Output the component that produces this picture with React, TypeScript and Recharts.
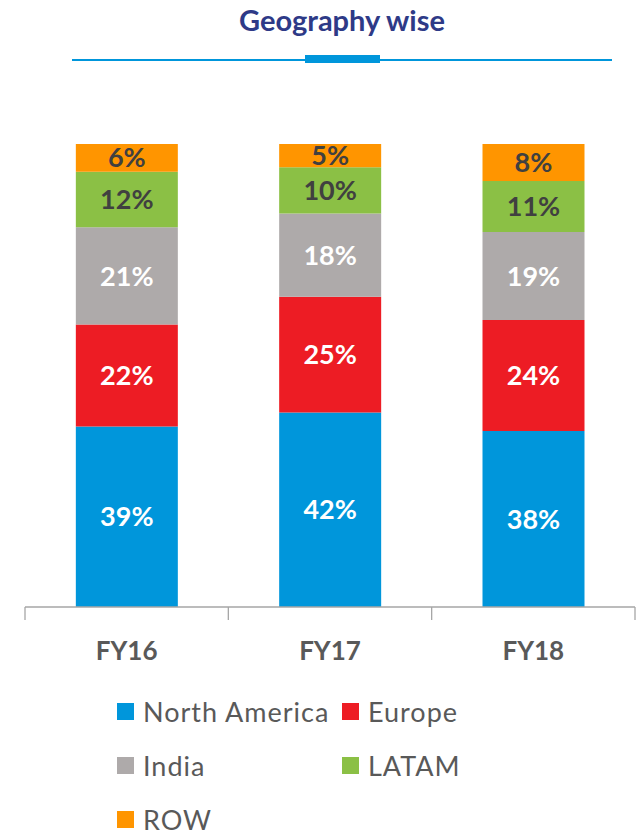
import { BarChart, Bar, XAxis, YAxis, LabelList } from "recharts";

const years = ["FY16", "FY17", "FY18"];
const northAmerica = [39, 42, 38];
const europe = [22, 25, 24];
const india = [21, 18, 19];
const latam = [12, 10, 11];
const row = [6, 5, 8];

const series = [
  { key: "na", name: "North America", color: "#0096DB", label: "#FFFFFF" },
  { key: "eu", name: "Europe", color: "#ED1C24", label: "#FFFFFF" },
  { key: "in", name: "India", color: "#AEAAAA", label: "#FFFFFF" },
  { key: "la", name: "LATAM", color: "#8BC045", label: "#404040" },
  { key: "row", name: "ROW", color: "#FF9500", label: "#404040" },
];

const data = years.map((year, i) => ({
  year,
  na: northAmerica[i],
  eu: europe[i],
  in: india[i],
  la: latam[i],
  row: row[i],
}));

const FONT = "Lato, 'Open Sans', sans-serif";

function CategoryTick(props: any) {
  const { x, y, payload, width, visibleTicksCount, index } = props;
  const half =
    width && visibleTicksCount ? width / visibleTicksCount / 2 : payload.offset;
  return (
    <g>
      {index === 0 && (
        <line x1={x - half} y1={y} x2={x - half} y2={y + 13} stroke="#A6A6A6" strokeWidth={1.3} />
      )}
      <line x1={x + half} y1={y} x2={x + half} y2={y + 13} stroke="#A6A6A6" strokeWidth={1.3} />
      <text
        x={x}
        y={y + 53}
        textAnchor="middle"
        fill="#595959"
        fontSize={26}
        fontWeight="bold"
        fontFamily={FONT}
      >
        {payload.value}
      </text>
    </g>
  );
}

// legend laid out like the source: two columns, three rows
function LegendGrid() {
  const rows = [
    [series[0], series[1]],
    [series[2], series[3]],
    [series[4]],
  ];
  return (
    <div
      style={{
        position: "absolute",
        left: 117,
        top: 684,
        fontFamily: FONT,
        color: "#595959",
        fontSize: 27,
        lineHeight: "27px",
        letterSpacing: 1,
      }}
    >
      {rows.map((r, ri) => (
        <div key={ri} style={{ display: "flex", height: 54, alignItems: "center" }}>
          {r.map((s) => (
            <div key={s.key} style={{ display: "flex", alignItems: "center", width: 225 }}>
              <span
                style={{
                  display: "inline-block",
                  width: 17,
                  height: 17,
                  background: s.color,
                  marginRight: 9,
                }}
              />
              <span>{s.name}</span>
            </div>
          ))}
        </div>
      ))}
    </div>
  );
}

export default function App() {
  return (
    <div
      style={{
        position: "absolute",
        left: 0,
        top: 0,
        width: 636,
        height: 834,
        background: "#FFFFFF",
        fontFamily: FONT,
        overflow: "hidden",
      }}
    >
      <div
        style={{
          position: "absolute",
          left: 0,
          width: 684,
          top: 2,
          textAlign: "center",
          color: "#2E3A87",
          fontSize: 29,
          lineHeight: "36px",
          fontWeight: "bold",
        }}
      >
        Geography wise
      </div>
      <div
        style={{
          position: "absolute",
          left: 72,
          width: 540,
          top: 59,
          height: 2,
          background: "#0096DB",
        }}
      />
      <div
        style={{
          position: "absolute",
          left: 305,
          width: 75,
          top: 55,
          height: 8,
          background: "#0096DB",
        }}
      />
      <BarChart
        width={636}
        height={834}
        data={data}
        margin={{ top: 144, right: 1, bottom: 167, left: 25 }}
        barCategoryGap="25%"
        style={{ position: "absolute", left: 0, top: 0 }}
      >
        <XAxis
          dataKey="year"
          height={60}
          axisLine={{ stroke: "#A6A6A6", strokeWidth: 1.3 }}
          tickLine={false}
          tickSize={0}
          tickMargin={0}
          tick={<CategoryTick />}
          interval={0}
        />
        <YAxis hide domain={[0, 100]} />
        {series.map((s) => (
          <Bar
            key={s.key}
            dataKey={s.key}
            name={s.name}
            stackId="geo"
            fill={s.color}
            isAnimationActive={false}
          >
            <LabelList
              dataKey={s.key}
              position="center"
              formatter={(v: any) => `${v}%`}
              fill={s.label}
              fontSize={27}
              fontWeight="bold"
              fontFamily={FONT}
            />
          </Bar>
        ))}
      </BarChart>
      <LegendGrid />
    </div>
  );
}
